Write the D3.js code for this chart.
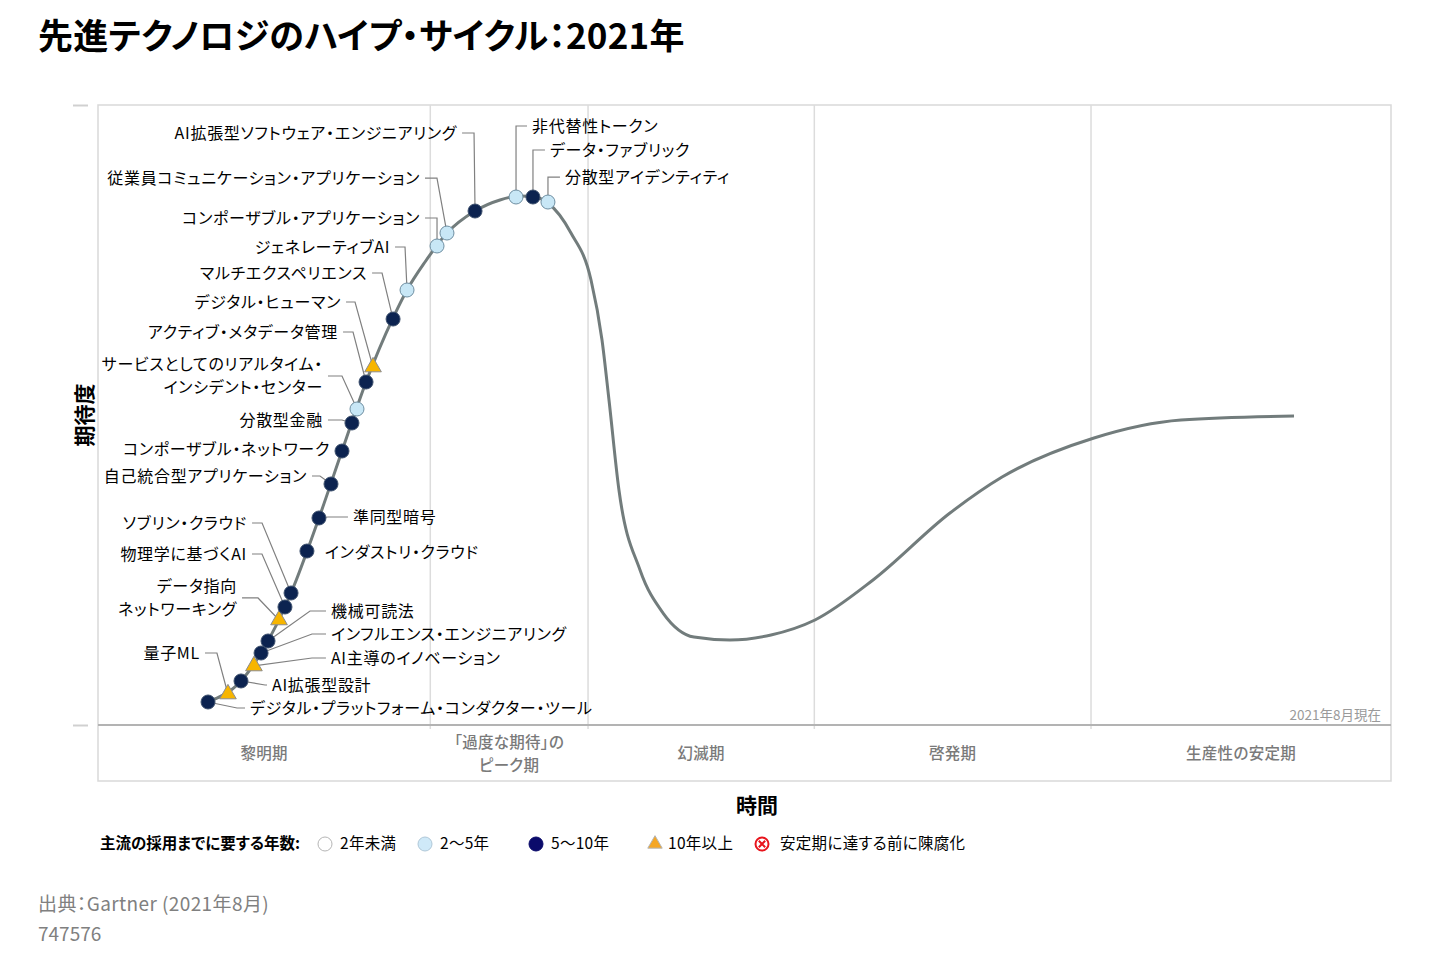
<!DOCTYPE html>
<html lang="ja">
<head>
<meta charset="utf-8">
<title>先進テクノロジのハイプ・サイクル:2021年</title>
<script src="https://cdn.jsdelivr.net/npm/d3@7/dist/d3.min.js"></script>
<style>
    body { margin: 0; background: #fff; }
    svg text { font-family: "Noto Sans CJK JP", "Noto Sans", sans-serif; font-feature-settings: "palt"; }
</style>
</head>
<body>
<div id="chart"></div>
<script>
'use strict';

// Phases of the cycle and their boundaries on the time axis (0-100)
const phases = ['黎明期', '「過度な期待」の\nピーク期', '幻滅期', '啓発期', '生産性の安定期'];
const phaseBounds = [0, 25.7, 37.9, 55.4, 76.8, 100];

// Hype curve (time, expectation)
const curveX = [8.43, 11.06, 12.61, 14.93, 17.09, 18.87, 20.73, 22.82, 23.90, 25.29, 26.99, 29.16,
    31.09, 32.64, 33.80, 34.80, 36.58, 38.13, 38.98, 39.52, 40.29, 41.92, 43.70, 46.09, 48.87,
    52.05, 55.45, 59.94, 65.89, 69.92, 77.03, 83.76, 92.50];
const curveY = [3.71, 7.10, 11.61, 21.29, 33.39, 44.19, 55.32, 65.65, 70.16, 74.68, 79.35, 82.90,
    84.68, 85.32, 85.16, 84.19, 79.35, 71.77, 62.10, 52.42, 37.90, 25.00, 18.06, 14.19, 13.71,
    14.52, 16.94, 23.39, 34.19, 40.00, 46.29, 49.19, 49.84];

// Technologies on the curve
const techNames = [
    'デジタル・プラットフォーム・コンダクター・ツール', '量子ML', 'AI拡張型設計', 'AI主導のイノベーション',
    'インフルエンス・エンジニアリング', '機械可読法', 'データ指向\nネットワーキング', '物理学に基づくAI',
    'ソブリン・クラウド', 'インダストリ・クラウド', '準同型暗号', '自己統合型アプリケーション',
    'コンポーザブル・ネットワーク', '分散型金融', 'サービスとしてのリアルタイム・\nインシデント・センター',
    'アクティブ・メタデータ管理', 'デジタル・ヒューマン', 'マルチエクスペリエンス', 'ジェネレーティブAI',
    'コンポーザブル・アプリケーション', '従業員コミュニケーション・アプリケーション',
    'AI拡張型ソフトウェア・エンジニアリング', '非代替性トークン', 'データ・ファブリック', '分散型アイデンティティ'
];
const techX = [8.51, 10.05, 11.06, 12.06, 12.61, 13.15, 14.00, 14.46, 14.93, 16.16, 17.09, 18.02,
    18.87, 19.64, 20.03, 20.73, 21.27, 22.82, 23.90, 26.22, 26.99, 29.16, 32.33, 33.64, 34.80];
const techY = [3.71, 5.00, 7.10, 9.52, 11.61, 13.55, 16.94, 19.03, 21.29, 28.06, 33.39, 38.87,
    44.19, 48.71, 50.97, 55.32, 57.74, 65.48, 70.16, 77.26, 79.35, 82.90, 85.16, 85.16, 84.35];
// Years to mainstream adoption: 0 = <2, 1 = 2-5, 2 = 5-10, 3 = >10, 4 = obsolete
const techYears = [2, 3, 2, 3, 2, 2, 3, 2, 2, 2, 2, 2, 2, 2, 1, 2, 3, 2, 1, 1, 1, 2, 1, 2, 1];

const legendTitle = '主流の採用までに要する年数:';
const legendLabels = ['2年未満', '2〜5年', '5〜10年', '10年以上', '安定期に達する前に陳腐化'];

// Layout: label offsets from the marker (px); elbow = x offset of the leader bend, null = no leader
const labelLayout = [
    { dx: 42, dy: 6, elbow: 29 }, { dx: -28, dy: -41, elbow: -11 }, { dx: 31, dy: 4, elbow: 24 },
    { dx: 77, dy: -8, elbow: 58 }, { dx: 70, dy: -19, elbow: 51 }, { dx: 63, dy: -30, elbow: 42 },
    { dx: -42, dy: -22, elbow: -21 }, { dx: -38, dy: -53, elbow: -23 }, { dx: -44, dy: -70, elbow: -29 },
    { dx: 18, dy: 1, elbow: null }, { dx: 34, dy: -1, elbow: 9 }, { dx: -24, dy: -8, elbow: -11 },
    { dx: -12, dy: -2, elbow: null }, { dx: -29, dy: -3, elbow: -10 }, { dx: -34, dy: -33, elbow: -15 },
    { dx: -28, dy: -50, elbow: -13 }, { dx: -32, dy: -65, elbow: -18 }, { dx: -26, dy: -46, elbow: -11 },
    { dx: -17, dy: -43, elbow: -2 }, { dx: -17, dy: -28, elbow: 0 }, { dx: -27, dy: -55, elbow: -10 },
    { dx: -18, dy: -78, elbow: -1 }, { dx: 16, dy: -71, elbow: 0 }, { dx: 17, dy: -47, elbow: 0 },
    { dx: 17, dy: -25, elbow: 0 }
];

const width = 1456, height = 974;
const plot = { left: 98, right: 1391, top: 105, axis: 725, bottom: 781 };

const colors = {
    curve: '#727c7c', leader: '#808080', frame: '#d9d9d9', grid: '#dcdcdc', axis: '#b3b3b3',
    phase: '#7a7a7a', navy: '#0c2350', light: '#c8e7f6', gold: '#f7b500'
};

const svg = d3.select('#chart').append('svg')
    .attr('width', width)
    .attr('height', height);

const x = d3.scaleLinear().domain([0, 100]).range([plot.left, plot.right]);
const y = d3.scaleLinear().domain([0, 100]).range([plot.axis, plot.top]);

// Title
svg.append('text')
    .attr('x', 38).attr('y', 49)
    .attr('font-size', 35).attr('font-weight', 'bold').attr('fill', '#000')
    .attr('letter-spacing', 0.2)
    .text('先進テクノロジのハイプ・サイクル：2021年');

// Frame and phase band
svg.append('rect')
    .attr('x', plot.left).attr('y', plot.top)
    .attr('width', plot.right - plot.left).attr('height', plot.bottom - plot.top)
    .attr('fill', 'none').attr('stroke', colors.frame).attr('stroke-width', 1.5);

svg.append('g')
    .selectAll('line')
    .data(phaseBounds.slice(1, -1))
    .join('line')
    .attr('x1', d => x(d)).attr('x2', d => x(d))
    .attr('y1', plot.top).attr('y2', plot.axis + 4)
    .attr('stroke', colors.grid).attr('stroke-width', 1.5);

svg.append('line')
    .attr('x1', plot.left).attr('x2', plot.right)
    .attr('y1', plot.axis).attr('y2', plot.axis)
    .attr('stroke', colors.axis).attr('stroke-width', 2);

// Stub ticks for the expectation axis
const yAxis = svg.append('g')
    .attr('transform', `translate(${plot.left - 10},0)`)
    .call(d3.axisLeft(y).tickValues([0, 100]).tickSize(15).tickFormat(''));
yAxis.select('.domain').remove();
yAxis.selectAll('.tick line').attr('stroke', '#d0d0d0').attr('stroke-width', 2);

// Phase labels
const phaseGap = 22.5;
const phaseLabels = svg.append('g')
    .selectAll('text')
    .data(phases)
    .join('text')
    .attr('text-anchor', 'middle')
    .attr('font-size', 15.5).attr('font-weight', 500).attr('fill', colors.phase)
    .attr('letter-spacing', 0.3)
    .attr('transform', (d, i) => {
        let cx = x((phaseBounds[i] + phaseBounds[i + 1]) / 2);
        let lines = d.split('\n').length;
        return `translate(${cx},${(plot.axis + plot.bottom) / 2 + 1 - (lines - 1) * phaseGap / 2})`;
    });
phaseLabels.selectAll('tspan')
    .data(d => d.split('\n'))
    .join('tspan')
    .attr('x', 0)
    .attr('dy', (d, i) => i === 0 ? '0.35em' : phaseGap)
    .text(d => d);

svg.append('text')
    .attr('x', plot.right - 10).attr('y', plot.axis - 10)
    .attr('dy', '0.35em').attr('text-anchor', 'end')
    .attr('font-size', 13.5).attr('fill', '#9a9a9a')
    .text('2021年8月現在');

// Axis titles
svg.append('text')
    .attr('transform', `translate(85,${(plot.top + plot.axis) / 2}) rotate(-90)`)
    .attr('text-anchor', 'middle').attr('dy', '0.35em')
    .attr('font-size', 21).attr('font-weight', 'bold')
    .text('期待度');

svg.append('text')
    .attr('x', 757).attr('y', 806).attr('dy', '0.35em')
    .attr('text-anchor', 'middle')
    .attr('font-size', 21).attr('font-weight', 'bold')
    .text('時間');

// Hype curve
const curvePoints = curveX.map((d, i) => [d, curveY[i]]);
svg.append('path')
    .datum(curvePoints)
    .attr('fill', 'none')
    .attr('stroke', colors.curve)
    .attr('stroke-width', 3)
    .attr('d', d3.line().x(d => x(d[0])).y(d => y(d[1])).curve(d3.curveMonotoneX));

// Technologies
const techs = techNames.map((name, i) => ({
    name, years: techYears[i], mx: x(techX[i]), my: y(techY[i]), layout: labelLayout[i]
}));

// Leader lines first, so the markers sit on top
svg.append('g')
    .selectAll('path')
    .data(techs.filter(d => d.layout.elbow !== null))
    .join('path')
    .attr('fill', 'none')
    .attr('stroke', colors.leader)
    .attr('stroke-width', 1.2)
    .attr('d', d => {
        let { dx, dy, elbow } = d.layout;
        let start = d.mx + dx + (dx < 0 ? 5 : -5);
        return `M${start},${d.my + dy}H${d.mx + elbow}L${d.mx},${d.my}`;
    });

const markerFill = [ '#fff', colors.light, colors.navy, colors.gold ];
const markerStroke = [ '#aaa', '#6f8fa2', '#3c4f6c', '#8c8c8c' ];

svg.append('g')
    .selectAll('path')
    .data(techs)
    .join('path')
    .attr('transform', d => `translate(${d.mx},${d.my})`)
    .attr('d', d => d.years === 3
        ? d3.symbol(d3.symbolTriangle, 120)()
        : d3.symbol(d3.symbolCircle, Math.PI * 49)())
    .attr('fill', d => markerFill[d.years])
    .attr('stroke', d => markerStroke[d.years])
    .attr('stroke-width', 1);

const lineGap = 23;
const labels = svg.append('g')
    .selectAll('text')
    .data(techs)
    .join('text')
    .attr('font-size', 16)
    .attr('letter-spacing', 0.7)
    .attr('fill', '#000')
    .attr('text-anchor', d => d.layout.dx < 0 ? 'end' : 'start')
    .attr('transform', d => {
        let lines = d.name.split('\n').length;
        return `translate(${d.mx + d.layout.dx},${d.my + d.layout.dy - (lines - 1) * lineGap / 2})`;
    });
labels.selectAll('tspan')
    .data(d => d.name.split('\n'))
    .join('tspan')
    .attr('x', 0)
    .attr('dy', (d, i) => i === 0 ? '0.35em' : lineGap)
    .text(d => d);

// Legend
const legendY = 844;
const legendSlots = [325, 425, 536, 655, 762];
const legend = svg.append('g');

legend.append('text')
    .attr('x', 100).attr('y', legendY).attr('dy', '0.35em')
    .attr('font-size', 15.5).attr('font-weight', 'bold')
    .text(legendTitle);

const legendItems = legend.selectAll('g.item')
    .data(legendLabels)
    .join('g')
    .classed('item', true)
    .attr('transform', (d, i) => `translate(${legendSlots[i]},${legendY})`);

legendItems.each(function (d, i) {
    let g = d3.select(this);
    if (i === 3) {
        g.append('path')
            .attr('d', d3.symbol(d3.symbolTriangle, 90)())
            .attr('fill', '#f5a623').attr('stroke', '#b5b5b5');
    } else if (i === 4) {
        g.append('circle').attr('r', 6.5)
            .attr('fill', '#fff').attr('stroke', '#e8141c').attr('stroke-width', 2);
        g.append('path').attr('d', 'M-3.2,-3.2L3.2,3.2M3.2,-3.2L-3.2,3.2')
            .attr('stroke', '#e8141c').attr('stroke-width', 2);
    } else {
        g.append('circle').attr('r', 7)
            .attr('fill', ['#fff', '#cfe9f8', '#0b0b6b'][i])
            .attr('stroke', ['#b5b5b5', '#b0c8d8', '#0b0b6b'][i]);
    }
    g.append('text')
        .attr('x', i === 3 ? 13 : (i === 4 ? 18 : 15))
        .attr('dy', '0.35em')
        .attr('font-size', 15.5)
        .attr('letter-spacing', 0.3)
        .text(d);
});

// Source
svg.append('text')
    .attr('x', 38).attr('y', 904).attr('dy', '0.35em')
    .attr('font-size', 19).attr('fill', '#808080')
    .attr('letter-spacing', 0.4)
    .text('出典：Gartner (2021年8月)');

svg.append('text')
    .attr('x', 38).attr('y', 934).attr('dy', '0.35em')
    .attr('font-size', 19).attr('fill', '#808080')
    .text('747576');
</script>
</body>
</html>
